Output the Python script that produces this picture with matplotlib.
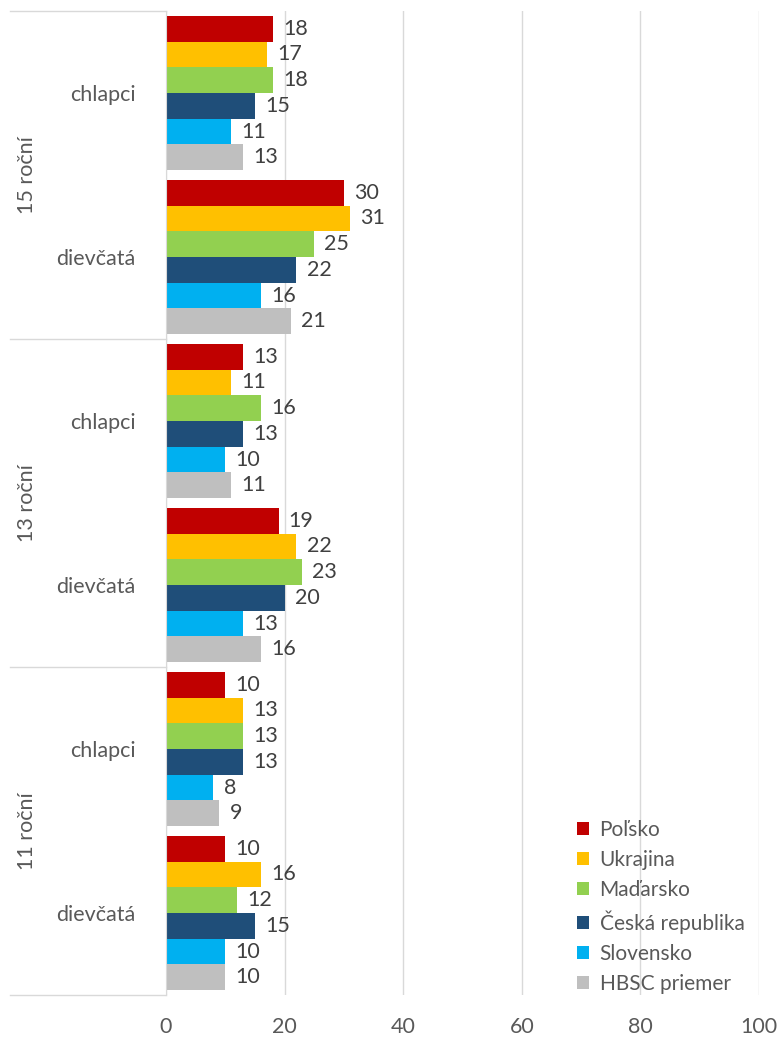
import numpy as np
import matplotlib.pyplot as plt

plt.rcParams['font.family'] = ['Lato', 'DejaVu Sans']

countries = ['Poľsko', 'Ukrajina', 'Maďarsko', 'Česká republika', 'Slovensko', 'HBSC priemer']
colors = ['#C00000', '#FFC000', '#92D050', '#1F4E79', '#00B0F0', '#BFBFBF']
ages = ['15 roční', '13 roční', '11 roční']
genders = ['chlapci', 'dievčatá']

# one row per (age, gender), columns follow countries
values = [
    [18, 17, 18, 15, 11, 13],  # 15 chlapci
    [30, 31, 25, 22, 16, 21],  # 15 dievčatá
    [13, 11, 16, 13, 10, 11],  # 13 chlapci
    [19, 22, 23, 20, 13, 16],  # 13 dievčatá
    [10, 13, 13, 13, 8, 9],    # 11 chlapci
    [10, 16, 12, 15, 10, 10],  # 11 dievčatá
]
xticks = [0, 20, 40, 60, 80, 100]

txt = '#595959'
grid = '#D9D9D9'
fs = 15.5

fig = plt.figure(figsize=(7.81, 10.38), dpi=100)
ax = fig.add_axes([166/781, 1 - 995/1038, (759 - 166)/781, (995 - 11)/1038])

vals = np.array(values)
ncat, nser = vals.shape
bh = 0.94 / nser
for j in range(nser):
    y = np.arange(ncat) - 0.47 + bh * (j + 0.5)
    bars = ax.barh(y, vals[:, j], height=bh, color=colors[j], label=countries[j])
    for b, v in zip(bars, vals[:, j]):
        ax.text(v + 1.7, b.get_y() + bh / 2, str(v), va='center', ha='left',
                fontsize=fs, color='#404040')

ax.set_xlim(0, 100)
ax.set_ylim(ncat - 0.5, -0.5)
ax.set_xticks(xticks)
ax.set_xticklabels([str(t) for t in xticks], fontsize=fs, color=txt)
ax.tick_params(axis='x', length=0, pad=16)
ax.xaxis.grid(True, color=grid, linewidth=1)
ax.set_axisbelow(True)
for s in ['top', 'right', 'bottom']:
    ax.spines[s].set_visible(False)
ax.spines['left'].set_color(grid)

ax.set_yticks(np.arange(ncat))
ax.set_yticklabels(genders * len(ages), fontsize=fs, color=txt)
ax.tick_params(axis='y', length=0, pad=22)

# outer category labels and separators
for i, a in enumerate(ages):
    ax.text(-23.4, 2 * i + 0.5, a, rotation=90, ha='center', va='center',
            fontsize=fs, color=txt, clip_on=False)
for k in range(len(ages) + 1):
    ax.plot([-26.3, 0], [2 * k - 0.5, 2 * k - 0.5], color=grid, linewidth=1,
            clip_on=False)

ax.legend(loc='lower right', bbox_to_anchor=(1.0, -0.014), frameon=False,
          fontsize=fs - 0.5, labelcolor=txt, handlelength=0.6, handleheight=0.6,
          handletextpad=0.5, labelspacing=0.49, borderaxespad=0.3)

fig.savefig('out.png', dpi=100)
